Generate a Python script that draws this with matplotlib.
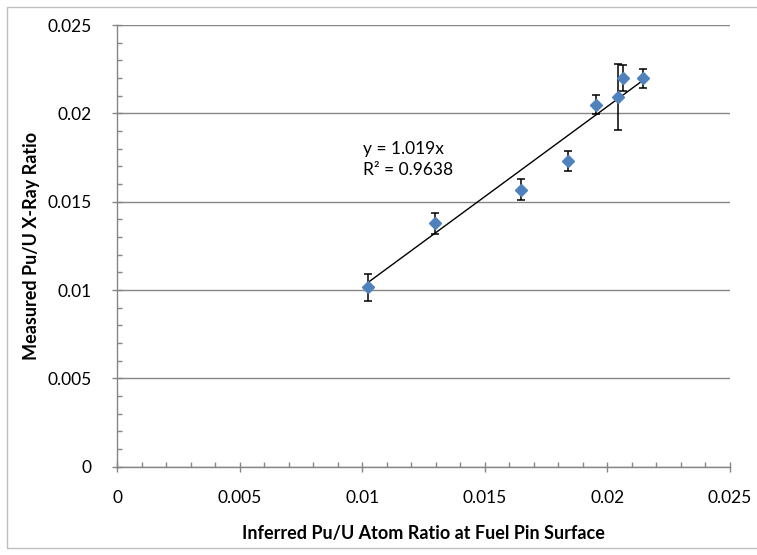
import matplotlib
matplotlib.use("Agg")
import matplotlib.pyplot as plt
from matplotlib.ticker import MultipleLocator
from matplotlib.patches import Rectangle

plt.rcParams['font.family'] = ['Lato', 'DejaVu Sans']

# inferred vs measured Pu/U ratios with measurement uncertainty
inferred = [0.01025, 0.01298, 0.01647, 0.01841, 0.01954, 0.02044, 0.02065, 0.02145]
measured = [0.01016, 0.01378, 0.01568, 0.01732, 0.02049, 0.02094, 0.02199, 0.02200]
err = [0.00076, 0.00061, 0.00059, 0.00057, 0.00055, 0.00187, 0.00073, 0.00054]

slope = 1.019
r_squared = 0.9638

ticks = [0, 0.005, 0.01, 0.015, 0.02, 0.025]
tick_labels = ["0", "0.005", "0.01", "0.015", "0.02", "0.025"]

grid_col = "#868686"

fig = plt.figure(figsize=(7.57, 5.55), dpi=100)
ax = fig.add_axes([0.155, 0.159, 0.8087, 0.7958])

# outer chart frame
fig.patches.append(Rectangle((7 / 757, 7 / 555), 1.0, 541 / 555, transform=fig.transFigure,
                             fill=False, edgecolor="#bfbfbf", linewidth=1.0, zorder=0))

ax.errorbar(inferred, measured, yerr=err, fmt="none", ecolor="black",
            elinewidth=1.1, capsize=3, capthick=1.1, zorder=3)
ax.plot(inferred, measured, linestyle="none", marker="D", markersize=6.5,
        color="#4f81bd", zorder=4)

# trendline through the origin, over the range of the data
x0, x1 = min(inferred), max(inferred)
ax.plot([x0, x1], [slope * x0, slope * x1], color="black", linewidth=1.0, zorder=2)

ax.text(0.01005, 0.0180, "y = %.3fx" % slope, fontsize=12.5, va="center", ha="left")
ax.text(0.01005, 0.0168, "R² = %.4f" % r_squared, fontsize=12.5, va="center", ha="left")

ax.set_xlim(0, 0.025)
ax.set_ylim(0, 0.025)
ax.set_xticks(ticks)
ax.set_yticks(ticks)
ax.set_xticklabels(tick_labels)
ax.set_yticklabels(tick_labels)
ax.xaxis.set_minor_locator(MultipleLocator(0.001))
ax.yaxis.set_minor_locator(MultipleLocator(0.001))

ax.grid(axis="y", which="major", color=grid_col, linewidth=1.0)
ax.set_axisbelow(True)
for side in ["top", "right"]:
    ax.spines[side].set_visible(False)
for side in ["left", "bottom"]:
    ax.spines[side].set_color(grid_col)
    ax.spines[side].set_linewidth(1.0)

ax.tick_params(which="major", direction="inout", length=7, width=1, color=grid_col,
               labelsize=12.5)
ax.tick_params(axis="x", which="major", pad=13)
ax.tick_params(axis="y", which="major", pad=15)
ax.tick_params(which="minor", direction="in", length=3.5, width=1, color=grid_col)

ax.set_xlabel("Inferred Pu/U Atom Ratio at Fuel Pin Surface", fontsize=13,
              fontweight="bold", labelpad=14)
ax.set_ylabel("Measured Pu/U X-Ray Ratio", fontsize=13, fontweight="bold", labelpad=5)

fig.savefig("out.png", dpi=100)
